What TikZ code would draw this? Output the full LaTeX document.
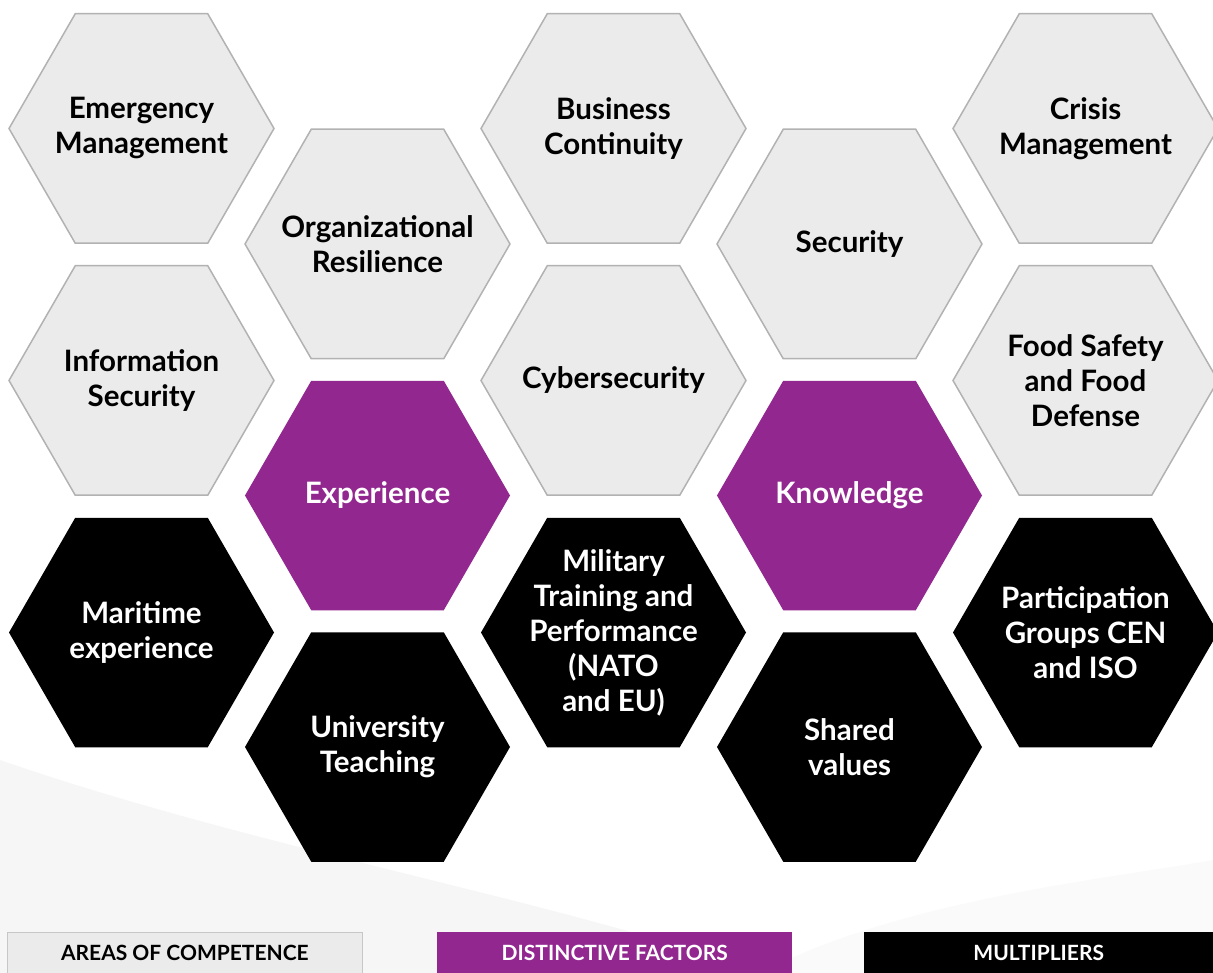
\documentclass[tikz,border=0pt]{standalone}
\usepackage{fontspec}
\setmainfont{Lato}
\usetikzlibrary{shapes.geometric,positioning}

\definecolor{hexgray}{RGB}{235,235,235}
\definecolor{hexedge}{RGB}{178,178,178}
\definecolor{hexpurple}{RGB}{146,39,143}
\definecolor{swoosh}{RGB}{246,246,246}

\begin{document}
\begin{tikzpicture}[%
	x=1pt, y=-1pt,
	every node/.style = {align=center, font=\fontsize{29.5}{35}\selectfont\bfseries},
	hexagon/.style = {regular polygon, regular polygon sides=6, minimum size=265pt, inner sep=-25pt, outer sep=0pt},
	area/.style = {hexagon, fill=hexgray, draw=hexedge, line width=1.5pt, text=black},
	factor/.style = {hexagon, fill=hexpurple, text=white},
	multiplier/.style = {hexagon, fill=black, text=white},
	legend/.style = {anchor=north west, minimum height=41pt, inner sep=0pt, font=\fontsize{21}{24}\selectfont\bfseries}
	]
  \useasboundingbox (0,0) rectangle (1213,973);
  \fill [swoosh] (0,760) .. controls (260,850) and (560,900) .. (760,973) -- (0,973) -- cycle;
  \fill [swoosh!60] (760,973) .. controls (900,900) and (1100,880) .. (1213,860) -- (1213,973) -- cycle;

  \node [area] (emergency) at (141.5,128.5) {Emergency\\Management};
  \node [area] (infosec) at (141.5,380.5) {Information\\Security};
  \node [multiplier] (maritime) at (141.5,632.5) {Maritime\\experience};

  \node [area] (orgres) at (377.5,244) {Organizational\\Resilience};
  \node [factor] (experience) at (377.5,495.5) {Experience};
  \node [multiplier] (university) at (377.5,747) {University\\Teaching};

  \node [area] (business) at (613.5,128.5) {Business\\Continuity};
  \node [area] (cyber) at (613.5,380.5) {Cybersecurity};
  \node [multiplier] (military) at (613.5,632.5) {Military\\Training and\\Performance\\(NATO\\and EU)};

  \node [area] (security) at (849.5,244) {Security};
  \node [factor] (knowledge) at (849.5,495.5) {Knowledge};
  \node [multiplier] (shared) at (849.5,747) {Shared\\values};

  \node [area] (crisis) at (1085.5,128.5) {Crisis\\Management};
  \node [area] (food) at (1085.5,380.5) {Food Safety\\and Food\\Defense};
  \node [multiplier] (participation) at (1085.5,632.5) {Participation\\Groups CEN\\and ISO};

  \node [legend, fill=hexgray, draw=black!22, line width=0.8pt, minimum width=355pt] (areas) at (7,932) {AREAS OF COMPETENCE};
  \node [legend, fill=hexpurple, text=white, minimum width=355pt] (factors) at (437,932) {DISTINCTIVE FACTORS};
  \node [legend, fill=black, text=white, minimum width=349pt] (multipliers) at (864,932) {MULTIPLIERS};
\end{tikzpicture}
\end{document}
